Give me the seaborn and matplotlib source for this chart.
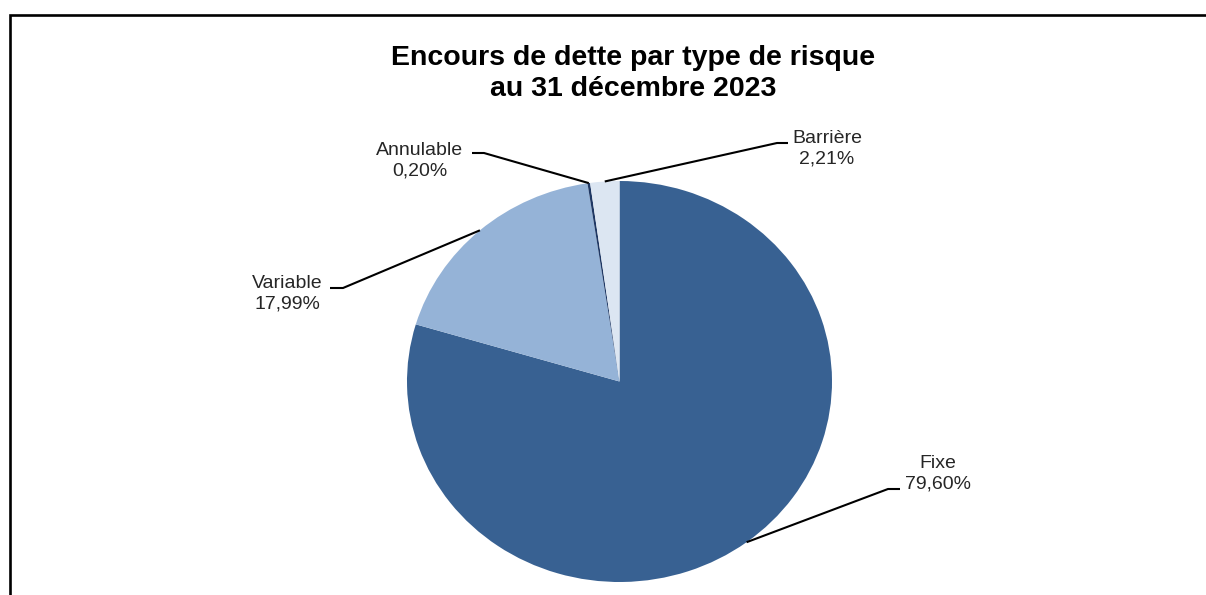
import matplotlib
matplotlib.use("Agg")
import numpy as np
import matplotlib.pyplot as plt
from matplotlib.lines import Line2D
from matplotlib.patches import Rectangle
from matplotlib.transforms import IdentityTransform
import seaborn as sns

# Debt outstanding by risk type, 31 Dec 2023 (share of total, %)
categories = ["Fixe", "Variable", "Annulable", "Barrière"]
shares = [79.60, 17.99, 0.20, 2.21]
colors = ["#386192", "#95B3D7", "#1F3864", "#DCE6F2"]
title = "Encours de dette par type de risque\nau 31 décembre 2023"

sns.set_theme(style="white")
plt.rcParams["font.family"] = ["Liberation Sans", "DejaVu Sans"]

W, H = 1206, 595
fig = plt.figure(figsize=(W / 100, H / 100), dpi=100)
fig.patch.set_facecolor("white")
ident = IdentityTransform()


def to_disp(x, y_top):
    """Pixel position measured from the top-left corner -> display coords."""
    return x, H - y_top


# Outer chart frame (runs off the right and bottom of the canvas)
fig.add_artist(Rectangle((10, -20), W + 40, H - 15 + 20, fill=False,
                         edgecolor="black", linewidth=1.9, transform=ident))

# Pie axes: box given in pixels (left, top, width, height)
pl, pt, pw, ph = 407, 181, 425, 401
ax = fig.add_axes([pl / W, 1 - (pt + ph) / H, pw / W, ph / H])
wedges, _ = ax.pie(shares, colors=colors, startangle=90, counterclock=False,
                   radius=1, wedgeprops=dict(linewidth=0))
ax.set_aspect("auto")
ax.set_xlim(-1, 1)
ax.set_ylim(-1, 1)
ax.axis("off")

fig.text(633 / W, 1 - 73.5 / H, title, ha="center", va="center",
         fontsize=20.5, fontweight="bold", color="black", linespacing=1.22)

# Label layout: text centre, elbow of the leader, end of the short stub
label_layout = {
    "Fixe":      dict(text=(938, 474), elbow=(888, 489), stub=(900, 489)),
    "Variable":  dict(text=(287, 294), elbow=(343, 288), stub=(330, 288)),
    "Annulable": dict(text=(420, 161), elbow=(484, 153), stub=(472, 153)),
    "Barrière":  dict(text=(827, 149), elbow=(777, 143), stub=(788, 143)),
}

for wedge, name, val in zip(wedges, categories, shares):
    mid = np.deg2rad((wedge.theta1 + wedge.theta2) / 2)
    ax_pt = ax.transData.transform((np.cos(mid), np.sin(mid)))
    lay = label_layout[name]
    ex, ey = to_disp(*lay["elbow"])
    sx, sy = to_disp(*lay["stub"])
    fig.add_artist(Line2D([ax_pt[0], ex, sx], [ax_pt[1], ey, sy],
                          color="black", linewidth=1.5, transform=ident,
                          solid_capstyle="butt"))
    tx, ty = to_disp(*lay["text"])
    label = f"{name}\n{val:.2f}%".replace(".", ",")
    fig.text(tx / W, ty / H, label, ha="center", va="center",
             fontsize=14, color="#262626", linespacing=1.28)

fig.savefig("out.png", dpi=100, facecolor="white")
